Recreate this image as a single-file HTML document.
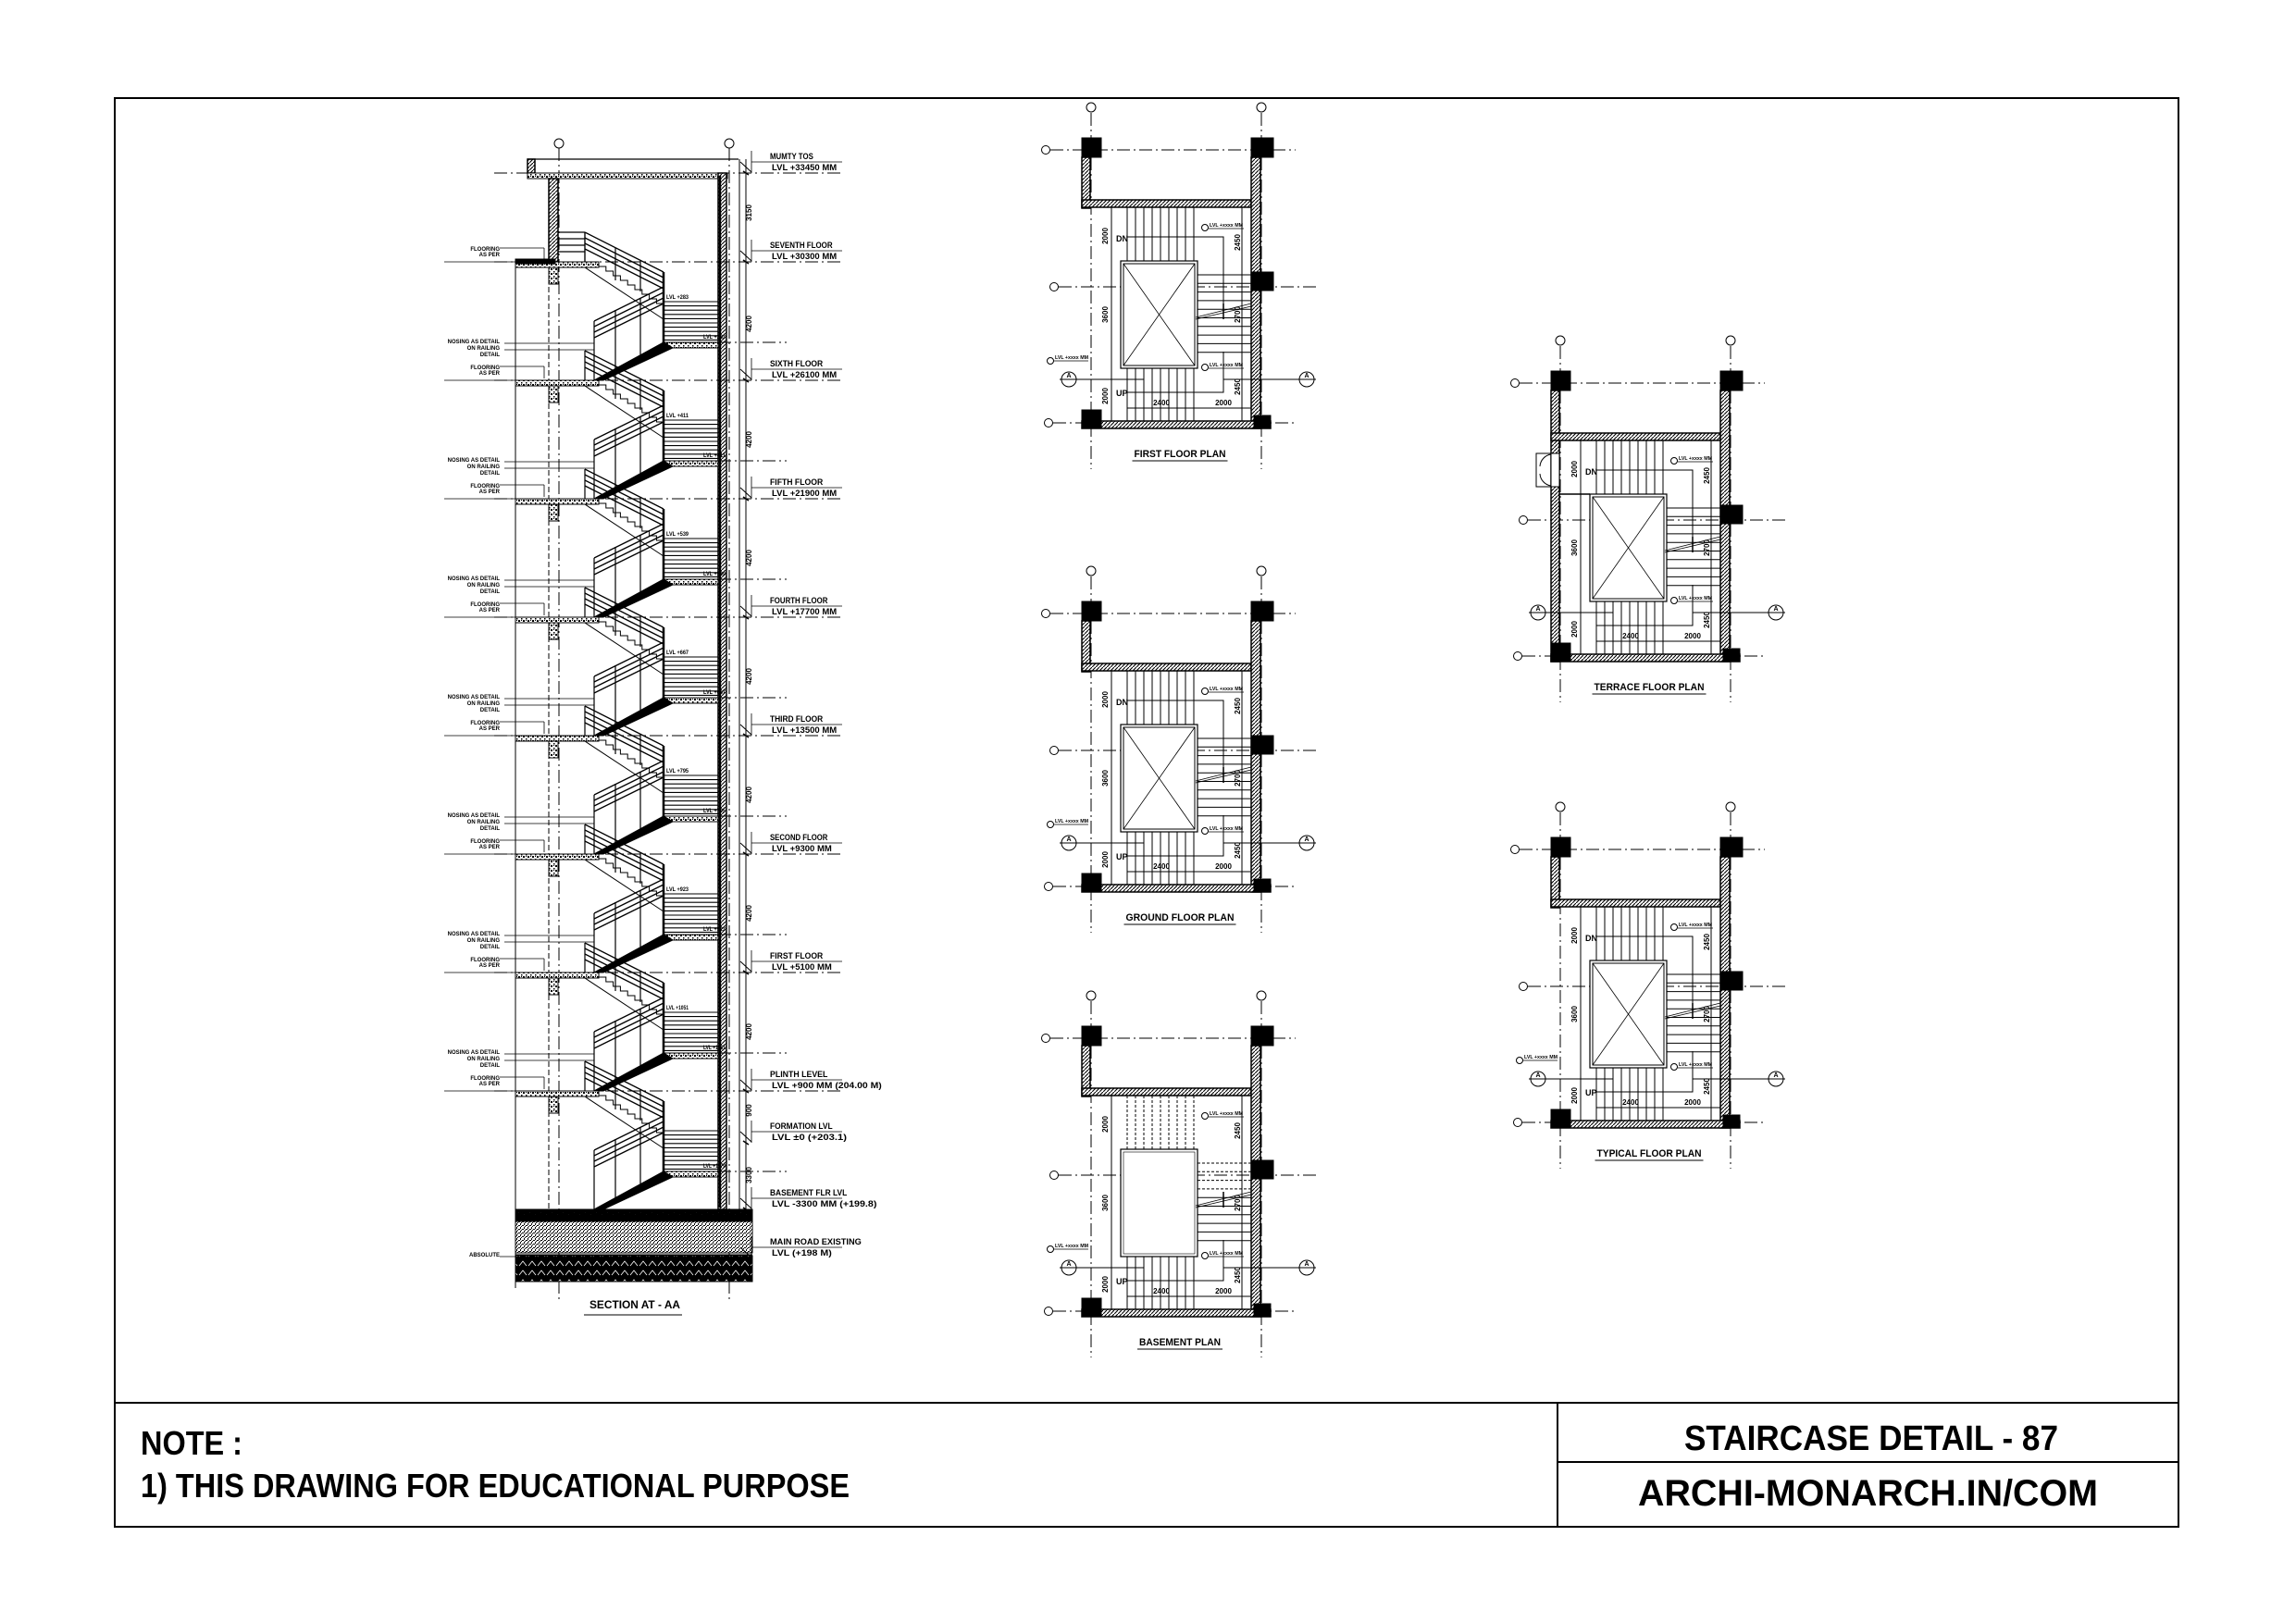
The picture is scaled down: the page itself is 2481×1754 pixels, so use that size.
<!DOCTYPE html>
<html><head><meta charset="utf-8">
<style>
html,body{margin:0;padding:0;background:#fff;}
svg{display:block;}
text{font-family:"Liberation Sans",sans-serif;font-weight:bold;fill:#000;}
</style></head>
<body>
<svg id="s" xmlns="http://www.w3.org/2000/svg" width="2481" height="1754" viewBox="0 0 2481 1754">
<defs>
<pattern id="h" patternUnits="userSpaceOnUse" width="4" height="4"><rect width="4" height="4" fill="#fff"/><path d="M-1,5 L5,-1" stroke="#000" stroke-width="1.1"/></pattern>
<pattern id="st" patternUnits="userSpaceOnUse" width="5" height="5"><rect width="5" height="5" fill="#fff"/><rect x="0" y="0" width="2" height="2" fill="#000"/><rect x="3" y="3" width="1.5" height="1.5" fill="#000"/><rect x="3" y="0" width="1" height="1" fill="#000"/></pattern>
<pattern id="gr" patternUnits="userSpaceOnUse" width="4" height="4"><rect width="4" height="4" fill="#fff"/><rect x="0" y="0" width="2" height="1" fill="#000"/><rect x="2" y="2" width="1" height="2" fill="#000"/><rect x="3" y="1" width="1" height="1" fill="#000"/></pattern>
<pattern id="bk" patternUnits="userSpaceOnUse" width="10" height="10"><rect width="10" height="10" fill="#000"/><path d="M1,8 L5,3 L9,8" stroke="#fff" stroke-width="0.8" fill="none"/></pattern>
</defs>
<g id="g" fill="none" stroke="#000" stroke-width="1"></g>
<!-- border & title -->
<rect x="124" y="106" width="2230" height="1544" fill="none" stroke="#000" stroke-width="2"/>
<line x1="124" y1="1516" x2="2354" y2="1516" stroke="#000" stroke-width="2"/>
<line x1="1683" y1="1516" x2="1683" y2="1650" stroke="#000" stroke-width="2"/>
<line x1="1683" y1="1580" x2="2354" y2="1580" stroke="#000" stroke-width="2"/>
<text x="152" y="1572" font-size="36" textLength="110" lengthAdjust="spacingAndGlyphs">NOTE :</text>
<text x="152" y="1618" font-size="36" textLength="766" lengthAdjust="spacingAndGlyphs">1) THIS DRAWING FOR EDUCATIONAL PURPOSE</text>
<text x="1820" y="1567" font-size="38" textLength="404" lengthAdjust="spacingAndGlyphs">STAIRCASE DETAIL - 87</text>
<text x="1770" y="1627" font-size="40" textLength="497" lengthAdjust="spacingAndGlyphs">ARCHI-MONARCH.IN/COM</text>
</svg>
<script>
var g=document.getElementById('g'),NS='http://www.w3.org/2000/svg';
function E(t,a,p,txt){var e=document.createElementNS(NS,t);for(var k in a)e.setAttribute(k,a[k]);if(txt!==undefined)e.textContent=txt;(p||g).appendChild(e);return e;}
function L(x1,y1,x2,y2,w,d,p){var a={x1:x1,y1:y1,x2:x2,y2:y2};if(w)a['stroke-width']=w;if(d)a['stroke-dasharray']=d;return E('line',a,p);}
function R(x,y,w,h,f,p,sw){return E('rect',{x:x,y:y,width:w,height:h,fill:f||'none','stroke-width':sw||1},p);}
function T(x,y,s,t,p,anc,rot,len){var a={x:x,y:y,'font-size':s,stroke:'none'};if(anc)a['text-anchor']=anc;if(rot)a.transform='rotate(-90 '+x+' '+y+')';if(len){a.textLength=len;a.lengthAdjust='spacingAndGlyphs';}return E('text',a,p,t);}
function P(pts,f,p,sw){return E('polygon',{points:pts,fill:f||'none','stroke-width':sw||1},p);}
function PL(pts,p,sw){return E('polyline',{points:pts,fill:'none','stroke-width':sw||1},p);}
var DD='14 4 2 4';

/* ---------- SECTION ---------- */
var F=[283,411,539,667,795,923,1051,1179];
E('circle',{cx:604,cy:155,r:5});E('circle',{cx:788,cy:155,r:5});
L(604,160,604,1407,1,DD);L(788,160,788,1407,1,DD);
R(570,172,8,15,'url(#h)',g,1.5);L(570,172,798,172,1.2);
R(570,187,216,6,'url(#st)');
R(593,193,10,90,'url(#h)',g,1.5);
R(776,187,9,1120,'url(#h)',g,1.5);L(778,190,778,1305,2.5);
L(799,172,799,1307,1);L(806,172,806,1307,1);
L(557,283,557,1392,1);L(593,283,593,1307,1,'6 3');
L(534,187,910,187,1,DD);
F.forEach(function(Fy,i){
 L(534,Fy,910,Fy,1,DD);
 R(557,Fy,90,6,'url(#st)');
 R(593,Fy+6,10,18,'url(#st)');
 if(i==0){R(557,Fy-3,43,5,'#000');
  for(var k=0;k<4;k++)L(603,Fy-32+k*7,632,Fy-32+k*7,1.2);L(632,Fy-32,632,Fy,1.2);}
 var pts=[],x=647,y=Fy;pts.push(x+','+y);
 for(var k=0;k<9;k++){y+=5;pts.push(x+','+y);x+=7.8;pts.push(x+','+y);}
 PL(pts.join(' '));
 L(632,Fy+6,717,Fy+62,1);
 for(var k=0;k<4;k++)L(632,Fy-32+k*6,717,Fy+11+k*6,1.3);
 L(632,Fy-32,632,Fy,1.2);L(665,Fy-15,665,Fy+20,1.2);L(692,Fy-2,692,Fy+32,1.2);
 L(717,Fy+11,717,Fy+87,2.5);
 for(var y2=Fy+43;y2<=Fy+85;y2+=4.6)L(717,y2,776,y2,1.1);
 P((717)+','+(Fy+87)+' 776,'+(Fy+87)+' 776,'+(Fy+93)+' 727,'+(Fy+93),'url(#st)');
 P('717,'+(Fy+87)+' 727,'+(Fy+93)+' 652,'+(Fy+128)+' 642,'+(Fy+128),'#000');
 for(var k=0;k<4;k++)L(642,Fy+82-k*6,717,Fy+45-k*6,1.3);
 L(642,Fy+64,642,Fy+128,1.2);L(665,Fy+52,665,Fy+117,1.2);L(692,Fy+39,692,Fy+104,1.2);
 L(776,Fy+87,850,Fy+87,1,DD);
 T(760,Fy+83,6,'LVL +'+(Fy),g,null,null,24);
 if(i<7)T(720,Fy+40,6,'LVL +'+Fy,g,null,null,24);
 L(480+0,Fy,557,Fy,0.8);
 T(540,Fy-12,6,'FLOORING',g,'end');T(540,Fy-6,6,'AS PER',g,'end');
 L(540,Fy-15,588,Fy-15,0.8);L(588,Fy-15,588,Fy-2,0.8);
 if(i>0){T(540,Fy-40,6,'NOSING AS DETAIL',g,'end');T(540,Fy-33,6,'ON RAILING',g,'end');T(540,Fy-26,6,'DETAIL',g,'end');
  L(545,Fy-40,642,Fy-40,0.8);L(545,Fy-33,642,Fy-33,0.8);}
});
R(557,1307,256,13,'#000');
for(var xx=560;xx<812;xx+=6)R(xx,1310+(xx%4),1.2,1.2,'#fff',g,0);
R(557,1320,256,34,'url(#gr)');
L(557,1356,813,1356,1);
R(557,1357,256,28,'url(#bk)');
T(540,1358,6,'ABSOLUTE',g,'end');L(540,1358,557,1358,0.8);
var labs=[[187,'MUMTY TOS','LVL +33450 MM'],[283,'SEVENTH FLOOR','LVL +30300 MM'],[411,'SIXTH FLOOR','LVL +26100 MM'],[539,'FIFTH FLOOR','LVL +21900 MM'],[667,'FOURTH FLOOR','LVL +17700 MM'],[795,'THIRD FLOOR','LVL +13500 MM'],[923,'SECOND FLOOR','LVL +9300 MM'],[1051,'FIRST FLOOR','LVL +5100 MM'],[1179,'PLINTH LEVEL','LVL +900 MM (204.00 M)'],[1235,'FORMATION LVL','LVL ±0 (+203.1)'],[1307,'BASEMENT FLR LVL','LVL -3300 MM (+199.8)'],[1360,'MAIN ROAD  EXISTING','LVL (+198 M)']];
labs.forEach(function(l){var y=l[0];
 T(832,y-15,9,l[1],g,null,null,l[1].length*5.2);
 T(834,y-3,9,l[2],g,null,null,l[2].length*5.4);
 L(812,y-24+0,812,y,0.8);L(812,y-12,910,y-12,0.8);PL('800,'+(y-12)+' 812,'+(y-1));
 L(803,y-2,809,y+2,1.5);
});
[[230,'3150'],[350,'4200'],[475,'4200'],[603,'4200'],[731,'4200'],[859,'4200'],[987,'4200'],[1115,'4200'],[1200,'900'],[1270,'3300']].forEach(function(d){T(812,d[0],8,d[1],g,'middle',1);});
T(686,1414,12,'SECTION AT - AA',g,'middle',null,98);L(631,1421,737,1421,1);

/* ---------- PLANS ---------- */
function plan(dx,dy,type,title,tl){
 var p=E('g',{transform:'translate('+dx+','+dy+')'});
 L(1179,122,1179,507,1,DD,p);L(1363,122,1363,507,1,DD,p);
 E('circle',{cx:1179,cy:116,r:5},p);E('circle',{cx:1363,cy:116,r:5},p);
 L(1135,162,1400,162,1,DD,p);L(1144,310,1423,310,1,DD,p);L(1138,457,1400,457,1,DD,p);
 E('circle',{cx:1130,cy:162,r:4.5},p);E('circle',{cx:1139,cy:310,r:4.5},p);E('circle',{cx:1133,cy:457,r:4.5},p);
 if(type=='t'){R(1169,170,9,293,'url(#h)',p,1.5);}
 else R(1169,170,9,55,'url(#h)',p,1.5);
 R(1169,216,183,8,'url(#h)',p,1.5);
 R(1352,170,10,293,'url(#h)',p,1.5);
 R(1169,455,204,8,'url(#h)',p,1.5);
 R(1169,149,21,21,'#000',p);R(1352,149,24,21,'#000',p);R(1352,294,24,20,'#000',p);
 R(1169,443,21,20,'#000',p);R(1355,449,18,14,'#000',p);
 if(type=='t'){
  R(1169,238,9,36,'#fff',p,0);
  PL('1169,238 1153,238 1153,274 1169,274',p);
  E('path',{d:'M1169,239 A14,14 0 0 0 1157,252 M1169,273 A14,14 0 0 1 1157,260'},p);
  L(1178,238,1178,274,1,null,p);
 }
 L(1201,224,1201,455,1,null,p);L(1342,224,1342,455,1,null,p);
 L(1218,441,1352,441,1,null,p);
 var dash=type=='b'?'3 2':null;
 for(var k=0;k<9;k++)L(1218+k*9,224,1218+k*9,282,1,dash,p);
 if(type=='t'){L(1178,282,1211,282,1.5,null,p);}
 R(1211,282,83,116,'#fff',p,1.2);
 if(type!='b'){R(1214,285,77,110,'none',p);L(1214,285,1291,395,0.8,null,p);L(1291,285,1214,395,0.8,null,p);}
 else R(1214,285,77,110,'none',p,0.6);
 for(var k=0;k<10;k++)L(1294,297+k*9.3,1352,297+k*9.3,1,type=='b'&&k<4?'3 2':null,p);
 L(1292,343,1352,328,0.8,null,p);L(1292,345,1352,331,0.8,null,p);
 for(var k=0;k<9;k++)L(1218+k*9,398,1218+k*9,455,1,null,p);
 if(type!='b')PL('1218,256 1322,256 1322,340',p);
 PL('1218,424 1322,424 1322,380',p);
 L(1322,328,1322,345,1.5,null,p);
 L(1160,410,1236,410,1,null,p);L(1322,410,1405,410,1,null,p);
 [1155,1412].forEach(function(cx){E('circle',{cx:cx,cy:410,r:8,fill:'#fff'},p);L(cx-10,410,cx+10,410,1,null,p);T(cx,408,7,'A',p,'middle');});
 if(type!='b')T(1206,261,9,'DN',p);
 if(type!='t')T(1206,428,9,'UP',p);
 T(1255,438,8,'2400',p,'middle');T(1322,438,8,'2000',p,'middle');
 T(1197,255,8,'2000',p,'middle',1);T(1197,340,8,'3600',p,'middle',1);T(1197,428,8,'2000',p,'middle',1);
 T(1340,262,8,'2450',p,'middle',1);T(1340,340,8,'2700',p,'middle',1);T(1340,418,8,'2450',p,'middle',1);
 E('circle',{cx:1302,cy:246,r:3.5},p);T(1307,245,5,'LVL +xxxx MM',p,null,null,36);L(1306,247,1344,247,0.7,null,p);
 E('circle',{cx:1302,cy:397,r:3.5},p);T(1307,396,5,'LVL +xxxx MM',p,null,null,36);L(1306,398,1344,398,0.7,null,p);
 if(type!='t'){E('circle',{cx:1135,cy:390,r:3.5},p);T(1140,388,5,'LVL +xxxx MM',p,null,null,36);L(1139,390,1176,390,0.7,null,p);}
 T(1275,494,11,title,p,'middle',null,tl);L(1275-tl/2-2,498,1275+tl/2+2,498,1,null,p);
}
plan(0,0,'f','FIRST FLOOR PLAN',99);
plan(0,501,'f','GROUND FLOOR PLAN',117);
plan(0,960,'b','BASEMENT PLAN',88);
plan(507,252,'t','TERRACE FLOOR PLAN',119);
plan(507,756,'f','TYPICAL FLOOR PLAN',113);
</script>
</body></html>
